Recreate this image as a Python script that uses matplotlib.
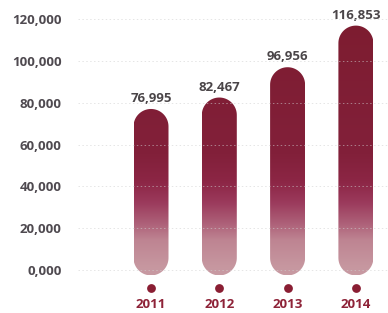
import numpy as np
import matplotlib
matplotlib.use("Agg")
import matplotlib.pyplot as plt
from matplotlib.patches import PathPatch
from matplotlib.path import Path
from matplotlib.colors import LinearSegmentedColormap

years = ["2011", "2012", "2013", "2014"]
values = [76995, 82467, 96956, 116853]
value_labels = ["76,995", "82,467", "96,956", "116,853"]
yticks = [0, 20000, 40000, 60000, 80000, 100000, 120000]
ytick_labels = ["0,000", "20,000", "40,000", "60,000", "80,000", "100,000", "120,000"]

W, H = 388, 313
fig = plt.figure(figsize=(W / 100, H / 100), dpi=100)
left_px = 68
ax = fig.add_axes([left_px / W, 0, 1 - left_px / W, 1])

px_per_20k = 41.83
zero_py = 270
ylo = -(H - zero_py) / px_per_20k * 20000
yhi = zero_py / px_per_20k * 20000
x0_px, dx_px = 151, 68.3
xlo = (left_px - x0_px) / dx_px
xhi = (W - x0_px) / dx_px
ax.set_xlim(xlo, xhi)
ax.set_ylim(ylo, yhi)

for s in ax.spines.values():
    s.set_visible(False)
ax.set_xticks([])
ax.set_yticks(yticks)
ax.set_yticklabels(ytick_labels)
ax.tick_params(axis="y", length=0, pad=4.5)
for t in ax.get_yticklabels():
    t.set_fontfamily("Open Sans")
    t.set_fontweight("bold")
    t.set_fontsize(9.5)
    t.set_color("#4f4a50")

for yt in yticks:
    ax.plot([xlo + 0.15, xhi], [yt, yt], color="#d0d0d0", lw=0.7,
            ls=(0, (1.5, 2.5)), zorder=4, alpha=0.55)

xpp = 1 / dx_px
ypp = 20000 / px_per_20k
bar_w = 35 * xpp
rx = bar_w / 2
ry = 17.5 * ypp
bottom = -2600
gtop = 125000


def f(y):
    return (y - bottom) / (gtop - bottom)


cmap = LinearSegmentedColormap.from_list("bar", [
    (0.0, "#c89aa2"),
    (f(2000), "#c6969f"),
    (f(14000), "#be8492"),
    (f(22000), "#ad6078"),
    (f(32000), "#9b3a5c"),
    (f(42000), "#8c2645"),
    (f(55000), "#82203a"),
    (1.0, "#7d1c2f"),
])
grad = np.linspace(0, 1, 256).reshape(-1, 1)


def pill(cx, y0, y1):
    t_top = np.linspace(0, np.pi, 40)
    t_bot = np.linspace(np.pi, 2 * np.pi, 40)
    xs = np.concatenate([cx + rx * np.cos(t_top), cx + rx * np.cos(t_bot)])
    ys = np.concatenate([y1 - ry + ry * np.sin(t_top), y0 + ry + ry * np.sin(t_bot)])
    verts = np.column_stack([xs, ys])
    verts = np.vstack([verts, verts[:1]])
    codes = [Path.MOVETO] + [Path.LINETO] * (len(verts) - 2) + [Path.CLOSEPOLY]
    return Path(verts, codes)


for i, (v, lab) in enumerate(zip(values, value_labels)):
    patch = PathPatch(pill(i, bottom, v), facecolor="none", edgecolor="none",
                      transform=ax.transData)
    ax.add_patch(patch)
    im = ax.imshow(grad, cmap=cmap, origin="lower", aspect="auto",
                   extent=[i - rx, i + rx, bottom, gtop],
                   zorder=2, interpolation="bilinear")
    im.set_clip_path(patch)
    ax.text(i, v + 4 * ypp, lab, ha="center", va="bottom",
            fontfamily="Open Sans", fontweight="bold", fontsize=9.5,
            color="#4a4548")
    ax.scatter([i], [-(288 - zero_py) * ypp], s=40, color="#8a1e33",
               zorder=3, linewidths=0)
    ax.text(i, -(305 - zero_py) * ypp, years[i], ha="center", va="center",
            fontfamily="Open Sans", fontweight="bold", fontsize=9.5,
            color="#8e2338")

ax.set_xlim(xlo, xhi)
ax.set_ylim(ylo, yhi)
fig.savefig("out.png", dpi=100)
